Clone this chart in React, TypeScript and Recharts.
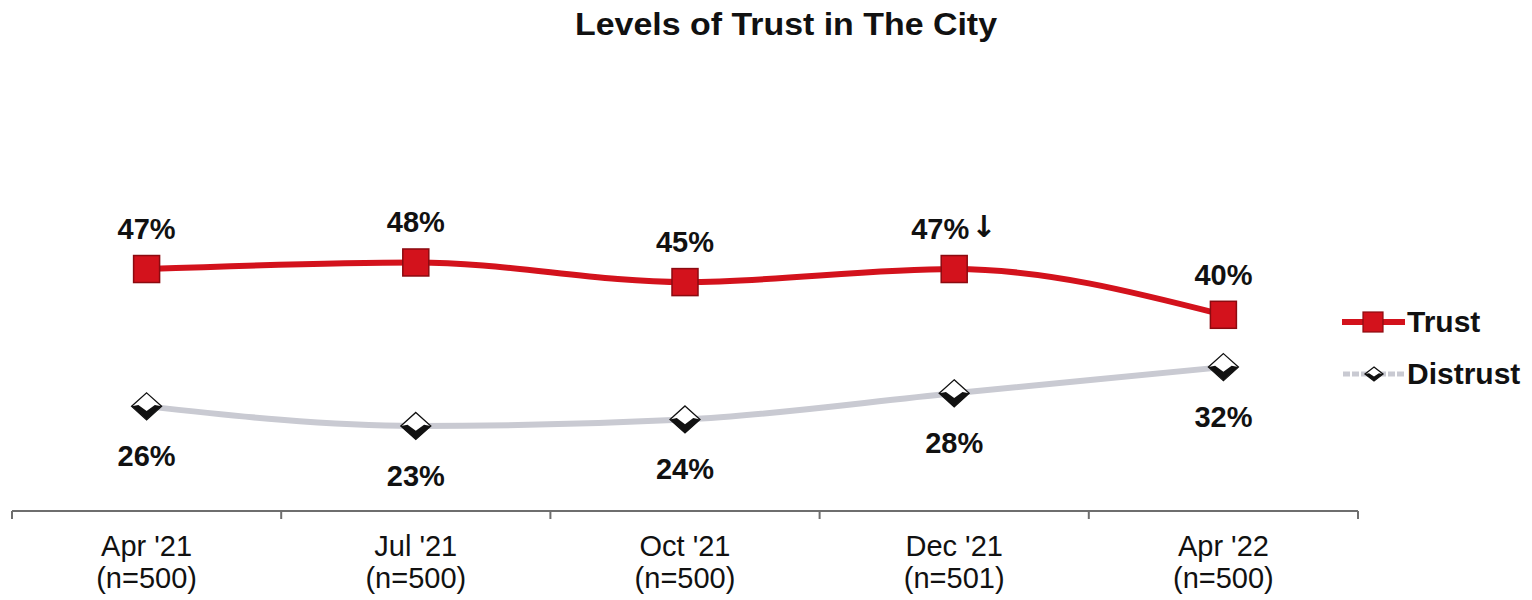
import React from "react";
import { LineChart, Line, XAxis, YAxis, Legend, LabelList } from "recharts";

// values
const categories = ["Apr '21", "Jul '21", "Oct '21", "Dec '21", "Apr '22"];
const sampleSizes = ["(n=500)", "(n=500)", "(n=500)", "(n=501)", "(n=500)"];
const trust = [47, 48, 45, 47, 40];
const distrust = [26, 23, 24, 28, 32];
const trustNotes = ["", "", "", "\u2193", ""];

const FONT = "'Liberation Sans', Arial, Helvetica, sans-serif";
const RED = "#d3121c";
const RED_DARK = "#8c0a10";
const GRAY = "#c9cad2";

const data = categories.map((c, i) => ({
  idx: i,
  cat: c,
  trust: trust[i],
  distrust: distrust[i],
  trustLabel: `${trust[i]}%`,
  trustNote: trustNotes[i],
  distrustLabel: `${distrust[i]}%`,
}));

// tick marks sit between categories, like an Excel category axis
const boundaryTicks = [...categories.map((_, i) => i - 0.5), categories.length - 0.5];
const centerTicks = categories.map((_, i) => i);

const SquareDot = (props: any) => {
  const { cx, cy, index } = props;
  if (cx == null || cy == null) return <g key={index} />;
  return (
    <rect
      key={index}
      x={cx - 13}
      y={cy - 13.5}
      width={26}
      height={27}
      fill={RED}
      stroke={RED_DARK}
      strokeWidth={1.5}
    />
  );
};

const Diamond = ({ cx, cy, w, h }: { cx: number; cy: number; w: number; h: number }) => (
  <g>
    <polygon
      points={`${cx},${cy - h} ${cx + w},${cy} ${cx},${cy + h} ${cx - w},${cy}`}
      fill="#ffffff"
      stroke="#111"
      strokeWidth={1.3}
    />
    <polygon
      points={`${cx - w},${cy} ${cx - w * 0.55},${cy - h * 0.1} ${cx},${cy + h * 0.35} ${cx + w * 0.55},${cy - h * 0.1} ${cx + w},${cy} ${cx},${cy + h}`}
      fill="#111"
    />
  </g>
);

const DiamondDot = (props: any) => {
  const { cx, cy, index } = props;
  if (cx == null || cy == null) return <g key={index} />;
  return (
    <g key={index}>
      <Diamond cx={cx} cy={cy} w={15} h={13.5} />
    </g>
  );
};

const TrustLabel = (props: any) => {
  const { x, y, value, index } = props;
  const note = data[index]?.trustNote;
  if (note) {
    return (
      <g>
        <text x={x + 15} y={y - 30} textAnchor="end" fontFamily={FONT} fontWeight="bold" fontSize={29} fill="#111">
          {value}
        </text>
        <text x={x + 17} y={y - 32} fontFamily="'DejaVu Sans', sans-serif" fontWeight="bold" fontSize={30} fill="#111">
          {note}
        </text>
      </g>
    );
  }
  return (
    <text x={x} y={y - 30} textAnchor="middle" fontFamily={FONT} fontWeight="bold" fontSize={29} fill="#111">
      {value}
    </text>
  );
};

const DistrustLabel = (props: any) => {
  const { x, y, value } = props;
  return (
    <text x={x} y={y + 60} textAnchor="middle" fontFamily={FONT} fontWeight="bold" fontSize={29} fill="#111">
      {value}
    </text>
  );
};

const CategoryTick = (props: any) => {
  const { x, y, payload } = props;
  const i = payload.value as number;
  return (
    <g>
      <text x={x} y={y + 36} textAnchor="middle" fontFamily={FONT} fontSize={29} fill="#111">
        {categories[i]}
      </text>
      <text x={x} y={y + 68} textAnchor="middle" fontFamily={FONT} fontSize={29} fill="#111">
        {sampleSizes[i]}
      </text>
    </g>
  );
};

const EmptyTick = () => <g />;

const LegendContent = (props: any) => {
  const items = props.payload || [];
  const name = (k: string, fallback: string) =>
    (items.find((p: any) => p.dataKey === k) || {}).value || fallback;
  return (
    <svg width={200} height={100} style={{ overflow: "visible" }}>
      <line x1={12} x2={75} y1={22} y2={22} stroke={RED} strokeWidth={6} />
      <rect x={33} y={12} width={20} height={20} fill={RED} stroke={RED_DARK} strokeWidth={1.2} />
      <text x={77} y={32} fontFamily={FONT} fontWeight="bold" fontSize={30} fill="#111">
        {name("trust", "Trust")}
      </text>
      <line x1={13} x2={76} y1={74} y2={74} stroke={GRAY} strokeWidth={5} strokeDasharray="7 2" />
      <Diamond cx={44} cy={74} w={9} h={7} />
      <text x={77} y={84} fontFamily={FONT} fontWeight="bold" fontSize={30} fill="#111">
        {name("distrust", "Distrust")}
      </text>
    </svg>
  );
};

export default function App() {
  return (
    <div style={{ position: "absolute", left: 0, top: 0, width: 1532, height: 600, background: "#fff" }}>
      <svg width={1532} height={60} style={{ position: "absolute", left: 0, top: 0 }}>
        <text
          x={786}
          y={35}
          textAnchor="middle"
          fontFamily={FONT}
          fontWeight="bold"
          fontSize={31}
          fill="#111"
          textLength={422}
          lengthAdjust="spacingAndGlyphs"
        >
          Levels of Trust in The City
        </text>
      </svg>
      <LineChart width={1532} height={600} data={data} margin={{ top: 184, right: 174, bottom: 0, left: 12 }}>
        <XAxis
          xAxisId="b_labels"
          dataKey="idx"
          type="number"
          domain={[-0.5, categories.length - 0.5]}
          ticks={centerTicks}
          interval={0}
          tick={<CategoryTick />}
          tickSize={0}
          tickMargin={0}
          height={80}
          axisLine={false}
          tickLine={false}
        />
        <XAxis
          xAxisId="a_marks"
          dataKey="idx"
          type="number"
          domain={[-0.5, categories.length - 0.5]}
          ticks={boundaryTicks}
          interval={0}
          tick={<EmptyTick />}
          tickSize={8}
          height={9}
          axisLine={{ stroke: "#6e6e6e", strokeWidth: 2 }}
          tickLine={{ stroke: "#6e6e6e", strokeWidth: 2 }}
        />
        <YAxis hide domain={[10, 60]} />
        <Legend
          layout="horizontal"
          verticalAlign="middle"
          align="center"
          content={<LegendContent />}
          wrapperStyle={{ position: "absolute", left: 1330, top: 300, width: 200, height: 100 }}
        />
        <Line
          xAxisId="a_marks"
          type="monotone"
          dataKey="distrust"
          name="Distrust"
          stroke={GRAY}
          strokeWidth={6}
          dot={DiamondDot}
          activeDot={false}
          isAnimationActive={false}
        >
          <LabelList dataKey="distrustLabel" content={DistrustLabel} />
        </Line>
        <Line
          xAxisId="a_marks"
          type="monotone"
          dataKey="trust"
          name="Trust"
          stroke={RED}
          strokeWidth={6}
          dot={SquareDot}
          activeDot={false}
          isAnimationActive={false}
        >
          <LabelList dataKey="trustLabel" content={TrustLabel} />
        </Line>
      </LineChart>
    </div>
  );
}
